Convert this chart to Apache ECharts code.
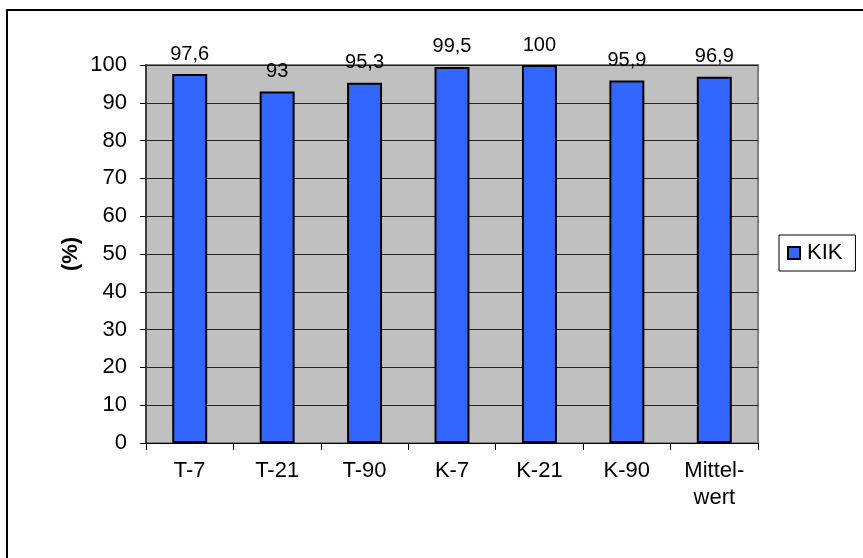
<!DOCTYPE html>
<html>
<head>
<meta charset="utf-8">
<script src="https://cdn.jsdelivr.net/npm/echarts@6/dist/echarts.min.js"></script>
<style>
html, body { margin: 0; padding: 0; background: #fff; }
#chart { width: 863px; height: 558px; }
</style>
</head>
<body>
<div id="chart"></div>
<script>
// Categories and KIK percentages
const categories = ['T-7', 'T-21', 'T-90', 'K-7', 'K-21', 'K-90', 'Mittel-\nwert'];
const kikValues = [97.6, 93, 95.3, 99.5, 100, 95.9, 96.9];
const seriesName = 'KIK';
const yTitle = '(%)';

const FONT = 'Liberation Sans, Arial, sans-serif';
const chart = echarts.init(document.getElementById('chart'));

chart.setOption({
  animation: false,
  backgroundColor: '#fff',
  textStyle: { fontFamily: FONT },
  graphic: [{
    type: 'rect',
    shape: { x: 7, y: 10, width: 1000, height: 700 },
    style: { fill: 'none', stroke: '#000', lineWidth: 2 },
    z: 100
  }],
  grid: {
    left: 146, top: 65, right: 105, bottom: 115,
    show: true,
    backgroundColor: '#C0C0C0',
    borderColor: '#808080',
    borderWidth: 2
  },
  legend: {
    data: [seriesName],
    left: 779, top: 235,
    orient: 'vertical',
    backgroundColor: '#fff',
    borderColor: '#000',
    borderWidth: 1,
    padding: [7, 13, 7, 8],
    itemWidth: 12, itemHeight: 12,
    itemGap: 0,
    icon: 'rect',
    textStyle: { fontFamily: FONT, fontSize: 22, color: '#000', padding: [2, 0, 0, 2] },
    itemStyle: { borderColor: '#000', borderWidth: 2 }
  },
  xAxis: {
    type: 'category',
    data: categories,
    axisLine: { lineStyle: { color: '#000', width: 1 } },
    axisTick: { show: true, alignWithLabel: false, length: 7, lineStyle: { color: '#000' } },
    axisLabel: { fontFamily: FONT, fontSize: 22, color: '#000', margin: 14, lineHeight: 27 }
  },
  yAxis: {
    type: 'value',
    min: 0, max: 100, interval: 10,
    name: yTitle,
    nameLocation: 'middle',
    nameGap: 64,
    nameMoveOverlap: false,
    nameTextStyle: { fontFamily: FONT, fontSize: 22, fontWeight: 'bold', color: '#000' },
    axisLine: { show: true, lineStyle: { color: '#404040', width: 2 } },
    axisTick: { show: true, length: 6, lineStyle: { color: '#000' } },
    axisLabel: { fontFamily: FONT, fontSize: 22, color: '#000', margin: 19 },
    splitLine: { show: true, lineStyle: { color: '#222', width: 1 } }
  },
  series: [{
    name: seriesName,
    type: 'bar',
    data: kikValues,
    barWidth: '40%',
    itemStyle: { color: '#3366FF', borderColor: '#000', borderWidth: 2 },
    label: {
      show: true,
      position: 'top',
      distance: 10,
      fontFamily: FONT,
      fontSize: 20,
      color: '#000',
      formatter: p => String(p.value).replace('.', ',')
    }
  }]
});
</script>
</body>
</html>
